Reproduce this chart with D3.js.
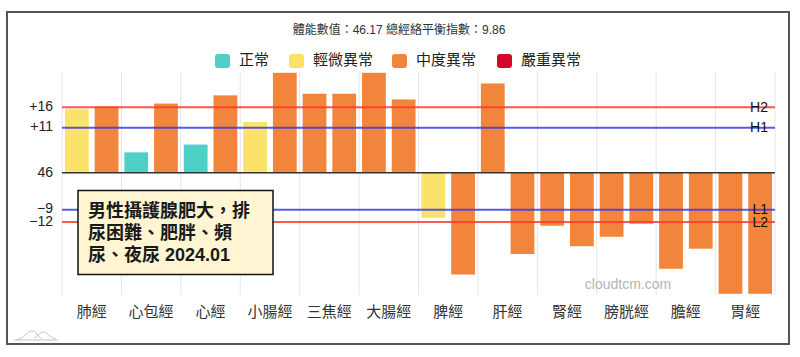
<!DOCTYPE html>
<html>
<head>
<meta charset="utf-8">
<script src="https://cdn.jsdelivr.net/npm/d3@7"></script>
<style>
  html, body { margin: 0; padding: 0; background: #fff; }
  svg { display: block; }
  text { font-family: "Liberation Sans", "Noto Sans CJK TC", "Noto Sans CJK SC", sans-serif; }
</style>
</head>
<body>
<svg id="chart" width="800" height="357"></svg>
<script>
// ---- data ----
const categories = ["肺經","心包經","心經","小腸經","三焦經","大腸經","脾經","肝經","腎經","膀胱經","膽經","胃經"];
const leftValues  = [15.6, 5.0, 6.9, 12.4, 19.3, 24.4, -11.0, 21.8, -12.9, -15.6, -23.4, -29.5];
const rightValues = [16.2, 16.9, 18.9, 24.4, 19.3, 17.9, -24.8, -19.8, -17.9, -12.4, -18.5, -29.5];
const leftStatus  = [1, 0, 0, 1, 2, 2, 1, 2, 2, 2, 2, 2];
const rightStatus = [2, 2, 2, 2, 2, 2, 2, 2, 2, 2, 2, 2];
const statusLabels = ["正常", "輕微異常", "中度異常", "嚴重異常"];
const tickValues = [16, 11, 0, -9, -12];
const tickLabels = ["+16", "+11", "46", "−9", "−12"];
const refValues = [16, 11, -9, -12];
const refNames = ["H2", "H1", "L1", "L2"];
const titleText = "體能數值：46.17 總經絡平衡指數：9.86";
const noteLines = ["男性攝護腺肥大，排", "尿困難、肥胖、頻", "尿、夜尿 2024.01"];
const watermark = "cloudtcm.com";

// ---- styles ----
const statusColors = ["#4fd0c6", "#fbe36b", "#f1853b", "#d4062c"];
const refColors = { H2: "#ff3b30", H1: "#3d3de0", L1: "#3d3de0", L2: "#ff3b30" };

const svg = d3.select("#chart");
const plot = { left: 62, right: 775, top: 72, bottom: 295 };

// frame
svg.append("rect").attr("x", 0).attr("y", 0).attr("width", 800).attr("height", 357).attr("fill", "#fff");
svg.append("rect").attr("x", 7).attr("y", 12).attr("width", 782).attr("height", 332)
  .attr("fill", "none").attr("stroke", "#555").attr("stroke-width", 2);

// scales
const x = d3.scaleBand().domain(categories).range([plot.left, plot.right]).padding(0);
const xi = d3.scaleBand().domain(["L", "R"]).range([0, x.bandwidth()]).paddingInner(0.2).paddingOuter(0.1);
const y = d3.scaleLinear().domain([-29.8, 24.6]).range([plot.bottom, plot.top]).clamp(true);

// title
svg.append("text").attr("x", 399).attr("y", 31).attr("text-anchor", "middle")
  .attr("dominant-baseline", "middle").attr("font-size", 12).attr("fill", "#333").text(titleText);

// legend
const legendX = [215, 289, 392, 497];
statusLabels.forEach((lab, i) => {
  const g = svg.append("g").attr("transform", `translate(${legendX[i]},54)`);
  g.append("rect").attr("width", 15).attr("height", 14).attr("rx", 3).attr("fill", statusColors[i]);
  g.append("text").attr("x", 24).attr("y", 7.5).attr("dominant-baseline", "middle")
    .attr("font-size", 15).attr("fill", "#222").text(lab);
});

// vertical grid lines
const gridX = categories.map(c => x(c)).concat([plot.right]);
svg.append("g").selectAll("line").data(gridX).join("line")
  .attr("x1", d => d).attr("x2", d => d).attr("y1", plot.top).attr("y2", plot.bottom)
  .attr("stroke", "#e6e6e6").attr("stroke-width", 1);

// bars
const barData = [];
categories.forEach((c, i) => {
  barData.push({ c, side: "L", v: leftValues[i], s: leftStatus[i] });
  barData.push({ c, side: "R", v: rightValues[i], s: rightStatus[i] });
});
svg.append("g").selectAll("rect").data(barData).join("rect")
  .attr("x", d => x(d.c) + xi(d.side))
  .attr("width", xi.bandwidth())
  .attr("y", d => Math.min(y(d.v), y(0)))
  .attr("height", d => Math.abs(y(d.v) - y(0)))
  .attr("fill", d => statusColors[d.s]);

// baseline
svg.append("line").attr("x1", plot.left).attr("x2", plot.right).attr("y1", y(0)).attr("y2", y(0))
  .attr("stroke", "#333").attr("stroke-width", 1.5);

// reference lines
refValues.forEach((v, i) => {
  svg.append("line").attr("x1", plot.left).attr("x2", plot.right).attr("y1", y(v)).attr("y2", y(v))
    .attr("stroke", refColors[refNames[i]]).attr("stroke-width", 2).attr("opacity", 0.85);
  svg.append("text").attr("x", 768).attr("y", y(v) + 1).attr("text-anchor", "end")
    .attr("dominant-baseline", "middle").attr("font-size", 14).attr("fill", "#111").text(refNames[i]);
});

// y tick labels
tickValues.forEach((v, i) => {
  svg.append("text").attr("x", 53).attr("y", y(v)).attr("text-anchor", "end")
    .attr("dominant-baseline", "middle").attr("font-size", 14).attr("fill", "#222").text(tickLabels[i]);
});

// x labels
svg.append("g").selectAll("text").data(categories).join("text")
  .attr("x", d => x(d) + x.bandwidth() / 2).attr("y", 313)
  .attr("text-anchor", "middle").attr("dominant-baseline", "middle")
  .attr("font-size", 15).attr("fill", "#333").text(d => d);

// watermark
svg.append("text").attr("x", 628).attr("y", 285).attr("text-anchor", "middle")
  .attr("dominant-baseline", "middle").attr("font-size", 14).attr("fill", "#b5b5b5").text(watermark);

// annotation box
svg.append("rect").attr("x", 78).attr("y", 190.5).attr("width", 195).attr("height", 84)
  .attr("fill", "#fff5d2").attr("stroke", "#111").attr("stroke-width", 1.5);
noteLines.forEach((t, i) => {
  svg.append("text").attr("x", 88).attr("y", 212 + i * 22).attr("dominant-baseline", "middle")
    .attr("font-size", 18).attr("font-weight", "bold").attr("fill", "#1a1a1a").text(t);
});

// small logo
const logo = svg.append("g").attr("fill", "none").attr("stroke", "#c4c4c4").attr("stroke-width", 1);
logo.append("path").attr("d", "M14,340 L58,340");
logo.append("path").attr("d", "M16,340 C24,339 27,331 32,331 C37,331 38,337 42,339");
logo.append("path").attr("d", "M34,338 C38,336 40,332 43,332 C47,332 50,338 56,339");
</script>
</body>
</html>
